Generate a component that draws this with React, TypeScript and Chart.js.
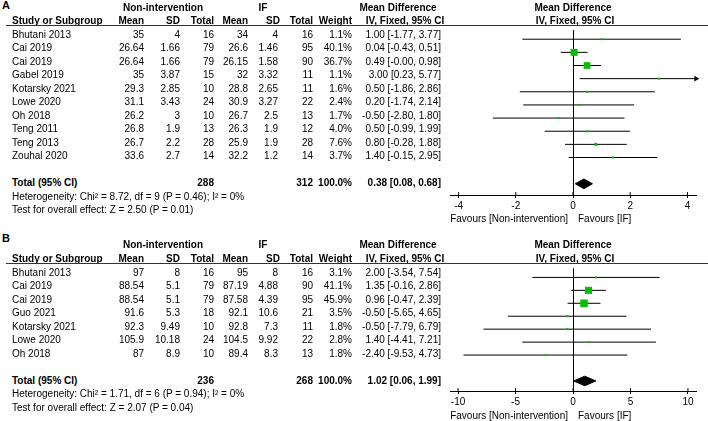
import React, { useEffect, useRef } from 'react';
import { Chart, registerables } from 'chart.js';
Chart.register(...registerables);

const FONT = '"Liberation Sans", Arial, Helvetica, sans-serif';
const GREEN = '#00bf00';

// ---------------- Panel A data ----------------
const A_STUDIES = ['Bhutani 2013', 'Cai 2019', 'Cai 2019', 'Gabel 2019', 'Kotarsky 2021', 'Lowe 2020', 'Oh 2018', 'Teng 2011', 'Teng 2013', 'Zouhal 2020'];
const A_CTRL_MEAN = [35, 26.64, 26.64, 35, 29.3, 31.1, 26.2, 26.8, 26.7, 33.6];
const A_CTRL_SD = [4, 1.66, 1.66, 3.87, 2.85, 3.43, 3, 1.9, 2.2, 2.7];
const A_CTRL_N = [16, 79, 79, 15, 10, 24, 10, 13, 28, 14];
const A_IF_MEAN = [34, 26.6, 26.15, 32, 28.8, 30.9, 26.7, 26.3, 25.9, 32.2];
const A_IF_SD = [4, 1.46, 1.58, 3.32, 2.65, 3.27, 2.5, 1.9, 1.9, 1.2];
const A_IF_N = [16, 95, 90, 11, 11, 22, 13, 12, 28, 14];
const A_WEIGHT = [1.1, 40.1, 36.7, 1.1, 1.6, 2.4, 1.7, 4.0, 7.6, 3.7];
const A_MD = [1.0, 0.04, 0.49, 3.0, 0.5, 0.2, -0.5, 0.5, 0.8, 1.4];
const A_LO = [-1.77, -0.43, -0.004, 0.23, -1.86, -1.74, -2.8, -0.99, -0.28, -0.15];
const A_HI = [3.77, 0.51, 0.98, 5.77, 2.86, 2.14, 1.8, 1.99, 1.88, 2.95];
const A_TOTAL_N = [288, 312];
const A_TOTAL_EFFECT = [0.38, 0.08, 0.68];
const A_HETERO = 'Heterogeneity: Chi² = 8.72, df = 9 (P = 0.46); I² = 0%';
const A_TEST = 'Test for overall effect: Z = 2.50 (P = 0.01)';
const A_TICKS = [-4, -2, 0, 2, 4];
const A_XMAX = 4.3;

// ---------------- Panel B data ----------------
const B_STUDIES = ['Bhutani 2013', 'Cai 2019', 'Cai 2019', 'Guo 2021', 'Kotarsky 2021', 'Lowe 2020', 'Oh 2018'];
const B_CTRL_MEAN = [97, 88.54, 88.54, 91.6, 92.3, 105.9, 87];
const B_CTRL_SD = [8, 5.1, 5.1, 5.3, 9.49, 10.18, 8.9];
const B_CTRL_N = [16, 79, 79, 18, 10, 24, 10];
const B_IF_MEAN = [95, 87.19, 87.58, 92.1, 92.8, 104.5, 89.4];
const B_IF_SD = [8, 4.88, 4.39, 10.6, 7.3, 9.92, 8.3];
const B_IF_N = [16, 90, 95, 21, 11, 22, 13];
const B_WEIGHT = [3.1, 41.1, 45.9, 3.5, 1.8, 2.8, 1.8];
const B_MD = [2.0, 1.35, 0.96, -0.5, -0.5, 1.4, -2.4];
const B_LO = [-3.54, -0.16, -0.47, -5.65, -7.79, -4.41, -9.53];
const B_HI = [7.54, 2.86, 2.39, 4.65, 6.79, 7.21, 4.73];
const B_TOTAL_N = [236, 268];
const B_TOTAL_EFFECT = [1.02, 0.06, 1.99];
const B_HETERO = 'Heterogeneity: Chi² = 1.71, df = 6 (P = 0.94); I² = 0%';
const B_TEST = 'Test for overall effect: Z = 2.07 (P = 0.04)';
const B_TICKS = [-10, -5, 0, 5, 10];
const B_XMAX = 10.7;

// ---------------- layout ----------------
const COL = { m1: 144, s1: 180, n1: 214, m2: 248, s2: 278, s2h: 280, n2: 313, w: 352, md: 441 };
const A_LAYOUT = { letterY: 6, h1Y: 8, h2Y: 21, lineY: 25, row0: 34.5, step: 13.5, axisY: 194.5 };
const B_LAYOUT = { letterY: 239, h1Y: 245, h2Y: 259, lineY: 263, row0: 272.5, step: 13.5, axisY: 391 };
const PLOT_LEFT = 440;
const PLOT_W = 268;
const AXIS_H = 31;

function fmtCI(m: number, l: number, h: number) {
  return `${m.toFixed(2)} [${l.toFixed(2)}, ${h.toFixed(2)}]`;
}

function Txt({ x, y, children, align = 'left', bold = false, size = 10 }: any) {
  const style: any = {
    position: 'absolute',
    top: y - size * 0.6,
    whiteSpace: 'nowrap',
    lineHeight: `${size * 1.2}px`,
    fontSize: size,
    fontWeight: bold ? 'bold' : 'normal',
  };
  if (align === 'left') style.left = x;
  else if (align === 'right') style.right = 708 - x;
  else {
    style.left = x - 120;
    style.width = 240;
    style.textAlign = 'center';
  }
  return <div style={style}>{children}</div>;
}

function ForestChart({ md, lo, hi, weight, total, ticks, xmax, L }: any) {
  const ref = useRef<HTMLCanvasElement>(null);
  useEffect(() => {
    const n = md.length;
    const totalRow = n + 1;
    const yMin = -(L.row0 - L.lineY) / L.step;
    const yMax = totalRow + (L.axisY - (L.row0 + totalRow * L.step)) / L.step;
    const dh = 5 / L.step;
    const tickUp = 3 / L.step;
    const datasets: any[] = [];
    // squares (area proportional to weight)
    datasets.push({
      type: 'scatter',
      data: md.map((m: number, i: number) => ({ x: m, y: i })),
      pointStyle: 'rect',
      pointRadius: (ctx: any) => {
        const w = weight[ctx.dataIndex] ?? 1;
        const side = Math.max(2, 7 * Math.sqrt(w / 40));
        return side / Math.SQRT2;
      },
      backgroundColor: GREEN,
      borderColor: GREEN,
      borderWidth: 0,
      order: 0,
      clip: false,
    });
    // arrows for CIs beyond the axis
    const arrowsR = hi.map((h: number, i: number) => (h > xmax ? { x: xmax, y: i } : null)).filter(Boolean);
    if (arrowsR.length) {
      datasets.push({
        type: 'scatter',
        data: arrowsR,
        pointStyle: 'triangle',
        rotation: 90,
        pointRadius: 3.2,
        backgroundColor: '#000',
        borderColor: '#000',
        borderWidth: 0,
        order: 0,
        clip: false,
      });
    }
    // CI lines
    md.forEach((_m: number, i: number) => {
      datasets.push({
        type: 'line',
        data: [{ x: lo[i], y: i }, { x: hi[i], y: i }],
        borderColor: '#000',
        borderWidth: 1,
        pointRadius: 0,
        fill: false,
        order: 1,
      });
    });
    // pooled diamond
    const [tm, tl, th] = total;
    datasets.push({
      type: 'line',
      data: [
        { x: tl, y: totalRow },
        { x: tm, y: totalRow - dh },
        { x: th, y: totalRow },
        { x: tm, y: totalRow + dh },
        { x: tl, y: totalRow },
      ],
      borderColor: '#000',
      backgroundColor: '#000',
      borderWidth: 1,
      pointRadius: 0,
      tension: 0,
      fill: 'shape',
      order: 1,
    });
    // upper half of tick marks
    ticks.forEach((t: number) => {
      datasets.push({
        type: 'line',
        data: [{ x: t, y: yMax }, { x: t, y: yMax - tickUp }],
        borderColor: '#000',
        borderWidth: 1,
        pointRadius: 0,
        fill: false,
        order: 1,
      });
    });

    const chart = new Chart(ref.current as HTMLCanvasElement, {
      type: 'scatter',
      data: { datasets },
      options: {
        animation: false,
        responsive: false,
        maintainAspectRatio: false,
        events: [],
        layout: { padding: { left: 10, right: 12, top: 0, bottom: 0 } },
        plugins: { legend: { display: false }, tooltip: { enabled: false } },
        scales: {
          x: {
            type: 'linear',
            position: 'bottom',
            min: -xmax,
            max: xmax,
            afterBuildTicks: (s: any) => {
              s.ticks = ticks.map((v: number) => ({ value: v }));
            },
            afterFit: (s: any) => {
              s.height = AXIS_H;
            },
            grid: {
              drawOnChartArea: true,
              color: (ctx: any) => (ctx.tick && ctx.tick.value === 0 ? '#000' : 'rgba(0,0,0,0)'),
              tickColor: '#000',
              tickLength: 3,
              lineWidth: 1,
            },
            border: { display: true, color: '#000', width: 1 },
            ticks: {
              color: '#000',
              padding: 2,
              font: { family: FONT, size: 10 },
              maxRotation: 0,
              autoSkip: false,
            },
          },
          y: {
            type: 'linear',
            display: false,
            reverse: true,
            min: yMin,
            max: yMax,
          },
        },
      } as any,
    });
    return () => chart.destroy();
  }, []);
  const h = Math.round(L.axisY - L.lineY + AXIS_H);
  return (
    <canvas
      ref={ref}
      width={PLOT_W}
      height={h}
      style={{ position: 'absolute', left: PLOT_LEFT, top: L.lineY, width: PLOT_W, height: h }}
    />
  );
}

function Panel({ letter, studies, cm, cs, cn, im, is, inn, weight, md, lo, hi, totalN, total, hetero, test, ticks, xmax, L }: any) {
  const n = studies.length;
  const rowY = (i: number) => L.row0 + i * L.step;
  const totalY = rowY(n + 1);
  const favY = L.axisY + 24.5;
  return (
    <>
      <ForestChart md={md} lo={lo} hi={hi} weight={weight} total={total} ticks={ticks} xmax={xmax} L={L} />
      <Txt x={2} y={L.letterY} bold size={11}>{letter}</Txt>
      <Txt x={163} y={L.h1Y} bold align="center">Non-intervention</Txt>
      <Txt x={263} y={L.h1Y} bold align="center">IF</Txt>
      <Txt x={398} y={L.h1Y} bold align="center">Mean Difference</Txt>
      <Txt x={573} y={L.h1Y} bold align="center">Mean Difference</Txt>

      <Txt x={12} y={L.h2Y} bold>Study or Subgroup</Txt>
      <Txt x={COL.m1} y={L.h2Y} bold align="right">Mean</Txt>
      <Txt x={COL.s1} y={L.h2Y} bold align="right">SD</Txt>
      <Txt x={COL.n1} y={L.h2Y} bold align="right">Total</Txt>
      <Txt x={COL.m2} y={L.h2Y} bold align="right">Mean</Txt>
      <Txt x={COL.s2h} y={L.h2Y} bold align="right">SD</Txt>
      <Txt x={COL.n2} y={L.h2Y} bold align="right">Total</Txt>
      <Txt x={COL.w} y={L.h2Y} bold align="right">Weight</Txt>
      <Txt x={405} y={L.h2Y} bold align="center">IV, Fixed, 95% CI</Txt>
      <Txt x={575} y={L.h2Y} bold align="center">IV, Fixed, 95% CI</Txt>
      <div style={{ position: 'absolute', left: 6, top: L.lineY, width: 702, height: 1, background: '#333' }} />

      {studies.map((s: string, i: number) => (
        <React.Fragment key={i}>
          <Txt x={12} y={rowY(i)}>{s}</Txt>
          <Txt x={COL.m1} y={rowY(i)} align="right">{String(cm[i])}</Txt>
          <Txt x={COL.s1} y={rowY(i)} align="right">{String(cs[i])}</Txt>
          <Txt x={COL.n1} y={rowY(i)} align="right">{String(cn[i])}</Txt>
          <Txt x={COL.m2} y={rowY(i)} align="right">{String(im[i])}</Txt>
          <Txt x={COL.s2} y={rowY(i)} align="right">{String(is[i])}</Txt>
          <Txt x={COL.n2} y={rowY(i)} align="right">{String(inn[i])}</Txt>
          <Txt x={COL.w} y={rowY(i)} align="right">{weight[i].toFixed(1) + '%'}</Txt>
          <Txt x={COL.md} y={rowY(i)} align="right">{fmtCI(md[i], lo[i], hi[i])}</Txt>
        </React.Fragment>
      ))}

      <Txt x={12} y={totalY} bold>Total (95% CI)</Txt>
      <Txt x={COL.n1} y={totalY} bold align="right">{String(totalN[0])}</Txt>
      <Txt x={COL.n2} y={totalY} bold align="right">{String(totalN[1])}</Txt>
      <Txt x={COL.w} y={totalY} bold align="right">100.0%</Txt>
      <Txt x={COL.md} y={totalY} bold align="right">{fmtCI(total[0], total[1], total[2])}</Txt>
      <Txt x={12} y={totalY + L.step}>{hetero}</Txt>
      <Txt x={12} y={totalY + 2 * L.step}>{test}</Txt>

      <Txt x={568} y={favY} align="right">Favours [Non-intervention]</Txt>
      <Txt x={578} y={favY}>Favours [IF]</Txt>
    </>
  );
}

export default function App() {
  return (
    <div
      style={{
        position: 'absolute',
        left: 0,
        top: 0,
        width: 708,
        height: 421,
        background: '#fff',
        overflow: 'hidden',
        fontFamily: FONT,
        fontSize: 10,
        color: '#000',
      }}
    >
      <Panel
        letter="A"
        studies={A_STUDIES}
        cm={A_CTRL_MEAN}
        cs={A_CTRL_SD}
        cn={A_CTRL_N}
        im={A_IF_MEAN}
        is={A_IF_SD}
        inn={A_IF_N}
        weight={A_WEIGHT}
        md={A_MD}
        lo={A_LO}
        hi={A_HI}
        totalN={A_TOTAL_N}
        total={A_TOTAL_EFFECT}
        hetero={A_HETERO}
        test={A_TEST}
        ticks={A_TICKS}
        xmax={A_XMAX}
        L={A_LAYOUT}
      />
      <Panel
        letter="B"
        studies={B_STUDIES}
        cm={B_CTRL_MEAN}
        cs={B_CTRL_SD}
        cn={B_CTRL_N}
        im={B_IF_MEAN}
        is={B_IF_SD}
        inn={B_IF_N}
        weight={B_WEIGHT}
        md={B_MD}
        lo={B_LO}
        hi={B_HI}
        totalN={B_TOTAL_N}
        total={B_TOTAL_EFFECT}
        hetero={B_HETERO}
        test={B_TEST}
        ticks={B_TICKS}
        xmax={B_XMAX}
        L={B_LAYOUT}
      />
    </div>
  );
}
